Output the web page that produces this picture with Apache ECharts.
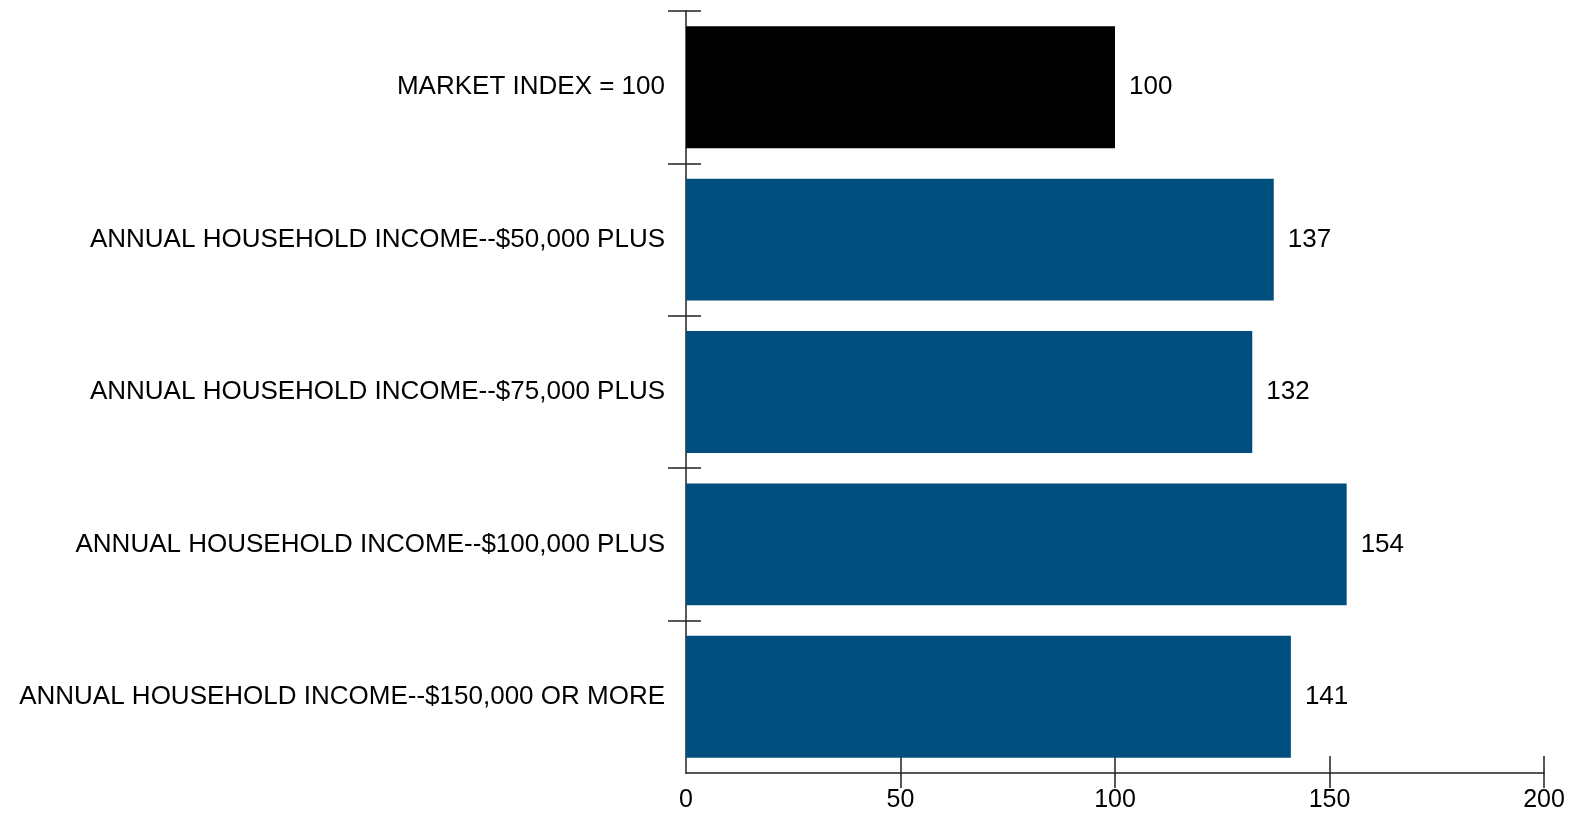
<!DOCTYPE html>
<html>
<head>
<meta charset="utf-8">
<script src="https://cdn.jsdelivr.net/npm/echarts@6/dist/echarts.min.js"></script>
<style>
  html, body { margin: 0; padding: 0; background: #fff; }
  #chart { width: 1573px; height: 815px; }
</style>
</head>
<body>
<div id="chart"></div>
<script>
// Index values by household income group (market = 100)
const categories = [
  'MARKET INDEX = 100',
  'ANNUAL HOUSEHOLD INCOME--$50,000 PLUS',
  'ANNUAL HOUSEHOLD INCOME--$75,000 PLUS',
  'ANNUAL HOUSEHOLD INCOME--$100,000 PLUS',
  'ANNUAL HOUSEHOLD INCOME--$150,000 OR MORE'
];
const indexValues = [100, 137, 132, 154, 141];
const barColors = ['#000000', '#004f7f', '#004f7f', '#004f7f', '#004f7f'];
const xTicks = [0, 50, 100, 150, 200];

const FONT = '"Liberation Sans", Arial, sans-serif';
const AXIS_COLOR = '#222';

// Band boundaries between categories (top edge of each band), used for the
// tick marks that cross the category axis.
const bandEdges = categories.map((_, i) => i);
// Tick marks on the value axis skip the origin.
const xMarked = xTicks.slice(1);

function line() { return { color: AXIS_COLOR, width: 1.5 }; }

const chart = echarts.init(document.getElementById('chart'));

chart.setOption({
  animation: false,
  backgroundColor: '#fff',
  grid: { left: 686, right: 29, top: 11, bottom: 42, containLabel: false },
  xAxis: [
    {
      // axis line and labels
      type: 'value',
      position: 'bottom',
      min: xTicks[0], max: xTicks[xTicks.length - 1], interval: 50,
      axisLine: { show: true, onZero: false, lineStyle: line() },
      axisTick: { show: false },
      axisLabel: { color: '#000', fontFamily: FONT, fontSize: 25, margin: 15 },
      splitLine: { show: false }
    },
    {
      // crossing tick marks: shifted below the line, reaching back above it
      type: 'value',
      position: 'bottom',
      offset: 15,
      min: xTicks[0], max: xTicks[xTicks.length - 1], interval: 50,
      axisLine: { show: false, onZero: false },
      axisTick: { show: true, inside: true, length: 32, customValues: xMarked, lineStyle: line() },
      axisLabel: { show: false },
      splitLine: { show: false }
    }
  ],
  yAxis: [
    {
      type: 'category',
      data: categories,
      inverse: true,
      position: 'left',
      axisLine: { show: true, onZero: false, lineStyle: line() },
      axisTick: { show: false },
      axisLabel: { color: '#000', fontFamily: FONT, fontSize: 26, margin: 21 },
      splitLine: { show: false }
    },
    {
      // crossing tick marks at each band edge, except the bottom corner
      type: 'value',
      position: 'left',
      offset: 18,
      inverse: true,
      min: 0, max: categories.length, interval: 1,
      axisLine: { show: false, onZero: false },
      axisTick: { show: true, inside: true, length: 33, customValues: bandEdges, lineStyle: line() },
      axisLabel: { show: false },
      splitLine: { show: false }
    }
  ],
  series: [{
    type: 'bar',
    xAxisIndex: 0,
    yAxisIndex: 0,
    barCategoryGap: '20%',
    data: indexValues.map((v, i) => ({ value: v, itemStyle: { color: barColors[i] } })),
    label: {
      show: true,
      position: 'right',
      distance: 14,
      color: '#000',
      fontFamily: FONT,
      fontSize: 26
    }
  }]
});
</script>
</body>
</html>
